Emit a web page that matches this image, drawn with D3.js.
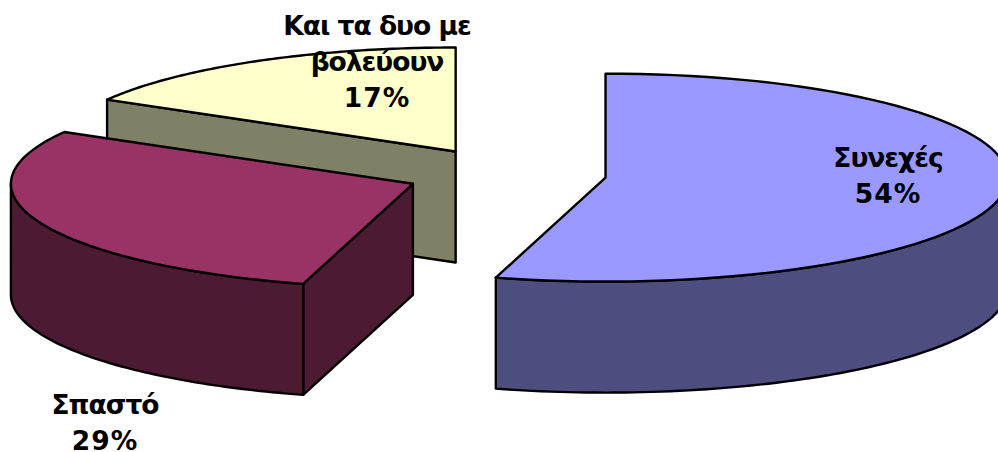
<!DOCTYPE html>
<html>
<head>
<meta charset="utf-8">
<script src="https://cdn.jsdelivr.net/npm/d3@7"></script>
<style>
  html, body { margin: 0; padding: 0; background: #fff; overflow: hidden; }
  text { font-family: "DejaVu Sans", sans-serif; font-weight: bold; font-size: 26.5px; fill: #000; }
  .word { letter-spacing: -1px; }
  .pct { letter-spacing: 1px; }
</style>
</head>
<body>
<script>
// ---- Data ----
const categories = ['Συνεχές', 'Σπαστό', 'Και τα δυο με βολεύουν'];
const shares = [54.4, 28.9, 16.7];
const labelLines = [['Συνεχές', '54%'], ['Σπαστό', '29%'], ['Και τα δυο με', 'βολεύουν', '17%']];
const topColors = ['#9999ff', '#993366', '#ffffcc'];
const sideColors = ['#4d4d80', '#4d1a33', '#808066'];

const width = 998, height = 452;
const svg = d3.select('body').append('svg').attr('width', width).attr('height', height).style('display', 'block');

// ---- Tilted pie projection ----
const cx = 506, cy = 174, rx = 402, ry = 104, depth = 111, explode = 0.25;
const x = d3.scaleLinear().domain([-1, 1]).range([cx - rx, cx + rx]);
const y = d3.scaleLinear().domain([-1, 1]).range([cy - ry, cy + ry]);

const pie = d3.pie().sort(null).value(d => d);
const slices = pie(shares).map((s, i) => {
  const mid = (s.startAngle + s.endAngle) / 2;
  return { ...s, i, ox: explode * Math.sin(mid), oy: -explode * Math.cos(mid) };
});

const pt = (s, a, r = 1) => [x(s.ox + r * Math.sin(a)), y(s.oy - r * Math.cos(a))];
const line = d3.line();

function arcPoints(s, a0, a1) {
  return d3.range(0, 1.0001, 1 / 80).map(t => pt(s, a0 + (a1 - a0) * t));
}
const drop = p => [p[0], p[1] + depth];

function outerWall(s, a0, a1) {
  const top = arcPoints(s, a0, a1);
  return line(top.concat(top.map(drop).reverse())) + 'Z';
}
function cutWall(s, a) {
  const c = pt(s, 0, 0), e = pt(s, a);
  return line([c, e, drop(e), drop(c)]) + 'Z';
}
function topFace(s) {
  return line([pt(s, 0, 0), ...arcPoints(s, s.startAngle, s.endAngle)]) + 'Z';
}

const face = (d, fill) => svg.append('path')
  .attr('d', d)
  .attr('fill', fill)
  .attr('stroke', '#000')
  .attr('stroke-width', 2.4)
  .attr('stroke-linejoin', 'round');

// Back to front: yellow, blue, red
const [blue, red, yellow] = slices;

face(cutWall(yellow, yellow.startAngle), sideColors[2]);
face(topFace(yellow), topColors[2]);

face(outerWall(blue, Math.PI / 2, blue.endAngle), sideColors[0]);
face(topFace(blue), topColors[0]);

face(cutWall(red, red.startAngle), sideColors[1]);
face(outerWall(red, red.startAngle, 1.5 * Math.PI), sideColors[1]);
face(topFace(red), topColors[1]);

// ---- Labels ----
const labelX = [888, 105, 377];
const labelY = [167, 414, 35];
const lineStep = 36;
labelLines.forEach((lines, i) => {
  const t = svg.append('text').attr('text-anchor', 'middle');
  lines.forEach((l, j) => t.append('tspan')
    .attr('class', l.endsWith('%') ? 'pct' : 'word')
    .attr('x', labelX[i])
    .attr('y', labelY[i] + j * lineStep)
    .text(l));
});
</script>
</body>
</html>
